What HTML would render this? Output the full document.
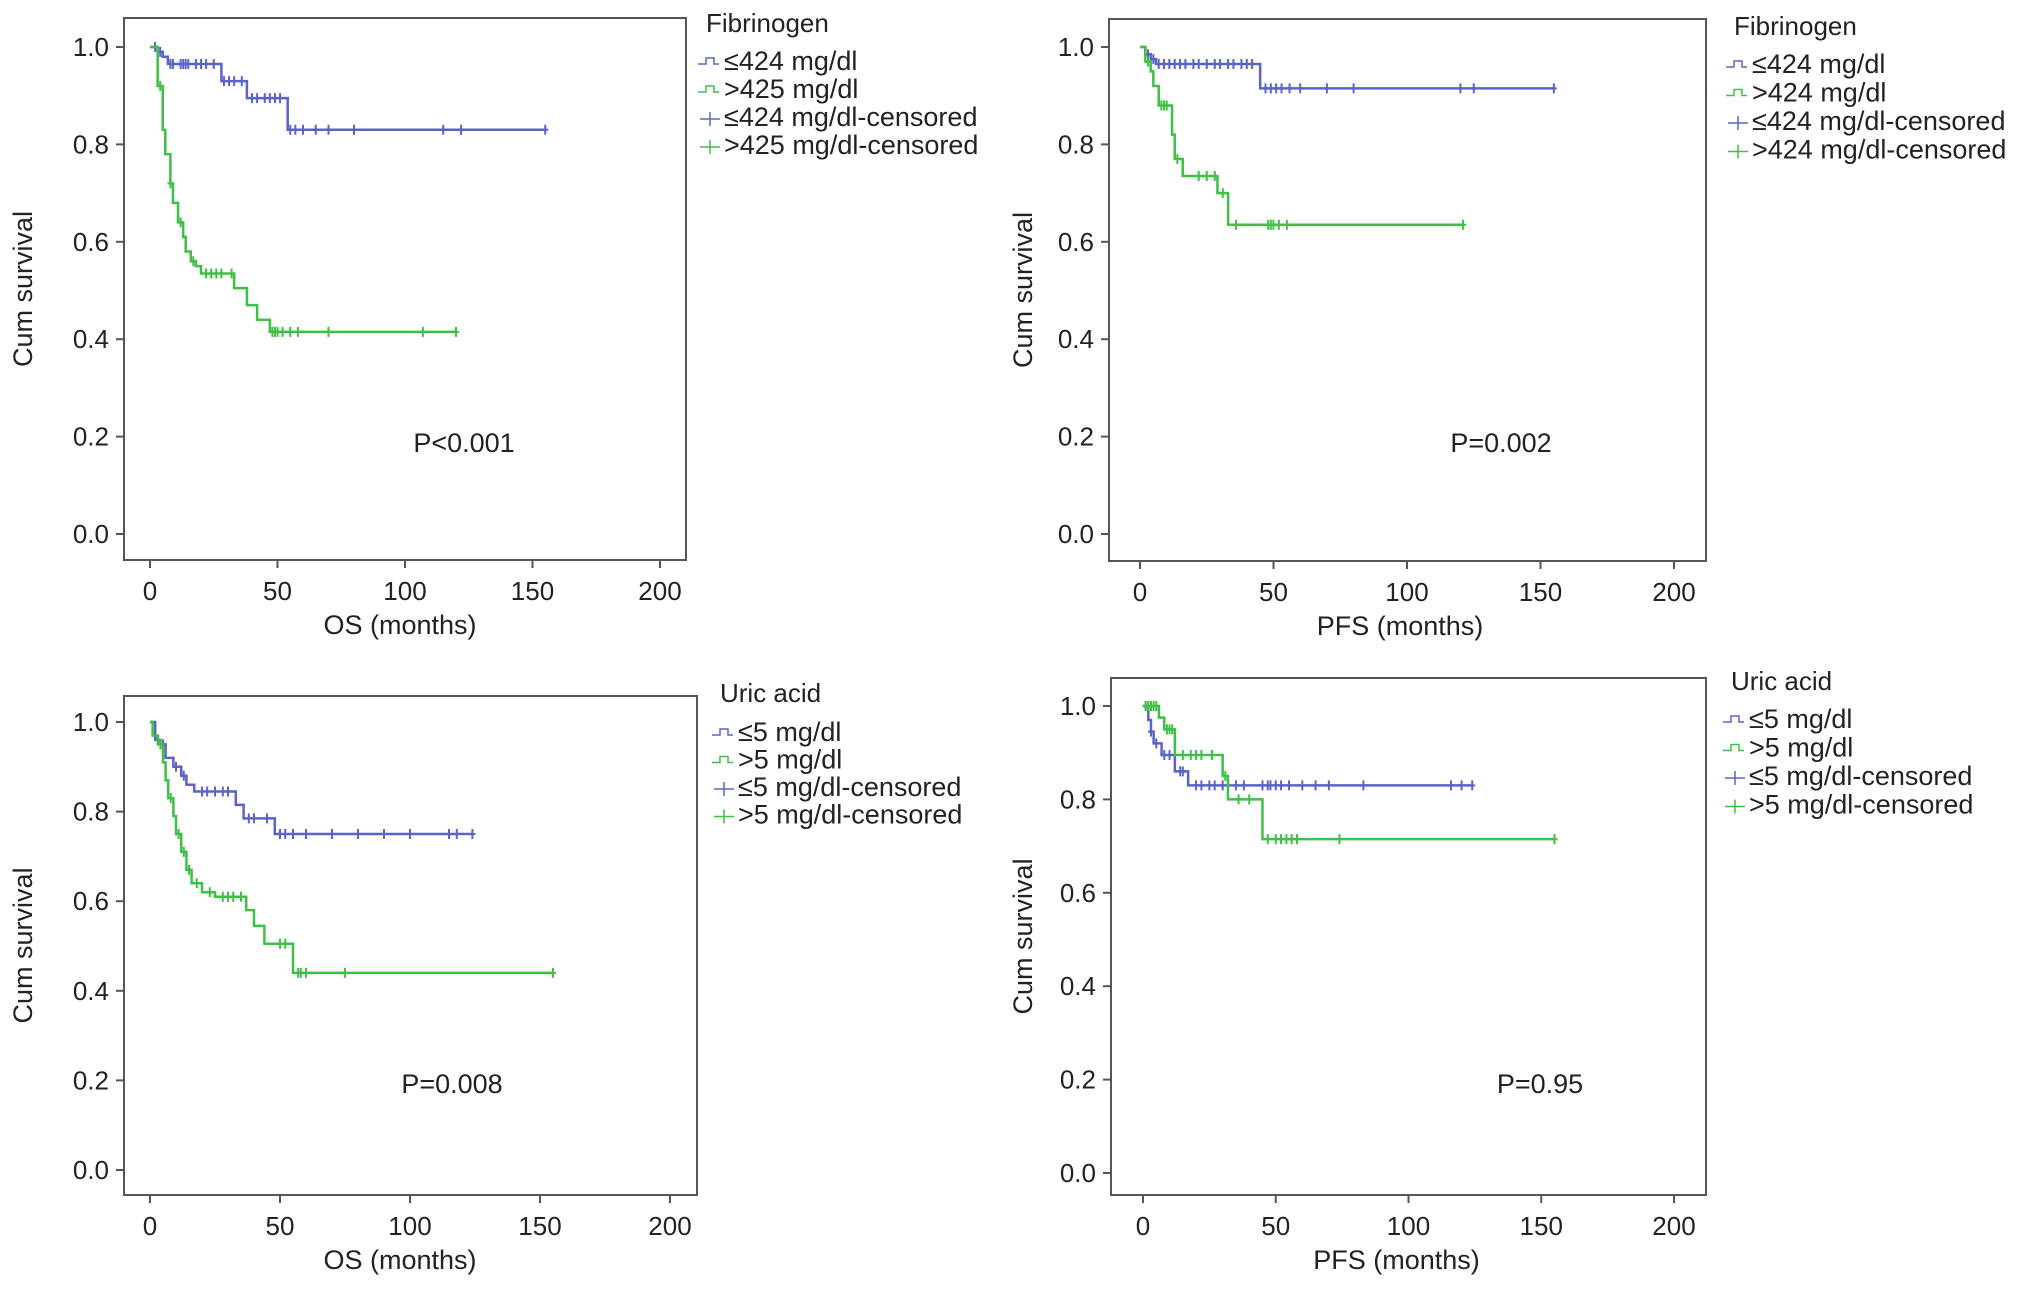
<!DOCTYPE html>
<html><head><meta charset="utf-8"><style>
body{margin:0;background:#fff;}
svg{display:block;font-family:"Liberation Sans",Arial,sans-serif;}
</style></head><body>
<svg id="fig" width="2032" height="1290" viewBox="0 0 2032 1290" xmlns="http://www.w3.org/2000/svg"></svg>
<script>
// Panel A: OS by fibrinogen
const aBlueT=[0,3,5,7,28,38,54], aBlueS=[1,0.99,0.98,0.965,0.93,0.895,0.83], aBlueEnd=155;
const aBlueC=[2,4,8,9,12,13,14,15,18,20,22,25,29,31,33,36,40,42,45,47,49,51,55,57,60,65,70,80,115,122,155];
const aGreenT=[0,3,5,6,8,9,11,13,14,16,18,20,33,38,42,47], aGreenS=[1,0.92,0.83,0.78,0.72,0.68,0.64,0.61,0.58,0.56,0.55,0.535,0.505,0.47,0.44,0.415], aGreenEnd=120;
const aGreenC=[4,8,12,17,22,24,26,28,32,48,49,50,52,55,58,70,107,120];
// Panel B: PFS by fibrinogen
const bBlueT=[0,2,4,6,45], bBlueS=[1,0.985,0.975,0.965,0.915], bBlueEnd=155;
const bBlueC=[3,5,7,9,11,13,15,17,20,22,25,28,30,33,35,38,40,42,47,49,51,53,56,60,70,80,120,125,155];
const bGreenT=[0,2,4,5,7,12,13,16,29,33], bGreenS=[1,0.97,0.95,0.92,0.88,0.82,0.77,0.735,0.7,0.635], bGreenEnd=121;
const bGreenC=[3,8,9,10,14,22,25,28,31,36,48,49,50,52,55,121];
// Panel C: OS by uric acid
const cBlueT=[0,2,4,6,9,12,14,17,33,36,48], cBlueS=[1,0.96,0.95,0.92,0.9,0.88,0.86,0.845,0.815,0.785,0.75], cBlueEnd=124;
const cBlueC=[3,5,10,13,20,22,25,28,30,38,40,45,50,52,55,60,70,80,90,100,115,118,124];
const cGreenT=[0,1,3,5,6,7,9,10,12,14,16,20,25,37,40,44,55], cGreenS=[1,0.97,0.95,0.91,0.87,0.83,0.79,0.75,0.71,0.67,0.64,0.62,0.61,0.58,0.545,0.505,0.44], cGreenEnd=155;
const cGreenC=[4,8,11,13,15,18,23,28,30,32,35,50,52,57,58,60,75,155];
// Panel D: PFS by uric acid
const dBlueT=[0,2,3,4,7,12,17], dBlueS=[1,0.97,0.945,0.92,0.895,0.86,0.83], dBlueEnd=124;
const dBlueC=[1,3,5,8,10,14,15,20,22,25,27,30,32,35,38,45,47,48,50,52,55,60,65,70,83,116,120,124];
const dGreenT=[0,6,8,12,30,32,45], dGreenS=[1,0.975,0.95,0.895,0.85,0.8,0.715], dGreenEnd=155;
const dGreenC=[1,2,3,4,5,9,10,11,15,18,20,22,26,31,36,40,47,50,52,54,56,58,74,155];
const yTicks=["0.0","0.2","0.4","0.6","0.8","1.0"];
const xTicks=["0","50","100","150","200"];

const BLUE="#5b63c9", GREEN="#3fbf45";
const NS="http://www.w3.org/2000/svg";
const fig=document.getElementById('fig');
function mk(tag,attrs,parent,text){const e=document.createElementNS(NS,tag);for(const k in attrs)e.setAttribute(k,attrs[k]);if(text!==undefined)e.textContent=text;(parent||fig).appendChild(e);return e;}

function panel(p){
  const g=mk('g',{});
  
  
  const xs=v=>p.x0+(p.x200-p.x0)*v/200;
  const ys=v=>p.y0+(p.y1-p.y0)*v;
  const fr=mk('rect',{x:p.L,y:p.T,width:p.R-p.L,height:p.B-p.T,fill:'none',stroke:'#555','stroke-width':2},g);
  
  
  yTicks.forEach(t=>{const y=ys(parseFloat(t));
    mk('line',{x1:p.L-8,x2:p.L,y1:y,y2:y,stroke:'#555','stroke-width':2},g);
    const tx=mk('text',{x:p.L-15,y:y+9,'text-anchor':'end','font-size':26,fill:'#222'},g,t);
    
    
  });
  xTicks.forEach(t=>{const x=xs(parseFloat(t));
    mk('line',{x1:x,x2:x,y1:p.B,y2:p.B+8,stroke:'#555','stroke-width':2},g);
    const tx=mk('text',{x:x,y:p.B+40,'text-anchor':'middle','font-size':26,fill:'#222'},g,t);
    
    
  });
  const yt=mk('text',{x:0,y:0,transform:`translate(${p.ytx},${(p.T+p.B)/2}) rotate(-90)`,'text-anchor':'middle','font-size':27,fill:'#222'},g,'Cum survival');
  
  
  const xt=mk('text',{x:(p.x0+p.x200)/2+p.xtOff,y:p.B+74,'text-anchor':'middle','font-size':27,fill:'#222'},g,p.xtitle);
  
  
  const pv=mk('text',{x:p.px,y:p.py,'text-anchor':'middle','font-size':27,fill:'#222'},g,p.pval);
  
  
  p.series.forEach(s=>{
    let d=`M${xs(s.t[0])},${ys(s.s[0])}`;
    for(let i=1;i<s.t.length;i++){d+=`H${xs(s.t[i])}V${ys(s.s[i])}`;}
    d+=`H${xs(s.end)}`;
    const path=mk('path',{d:d,fill:'none',stroke:s.col,'stroke-width':2.5},g);
    
    
    s.c.forEach(ct=>{
      let v=s.s[0];for(let i=0;i<s.t.length;i++){if(s.t[i]<=ct)v=s.s[i];}
      const x=xs(ct),y=ys(v);
      const m=mk('path',{d:`M${x},${y-5}V${y+5}M${x-3},${y}H${x+3}`,stroke:s.col,'stroke-width':2},g);
      
      
    });
  });
  const lt=mk('text',{x:p.lx,y:p.ly,'font-size':26,fill:'#222'},g,p.ltitle);
  
  
  p.legend.forEach((l,i)=>{
    const y=p.ly+p.l0+i*p.ldy;
    const e=mk('g',{},g);
    
    
    if(i<2) mk('path',{d:`M${p.lx-8},${y-6}h8v-6h8v6h5`,fill:'none',stroke:l.col,'stroke-width':1.5},e);
    else mk('path',{d:`M${p.lx+4},${y-14}v14M${p.lx-6},${y-7}h20`,stroke:l.col,'stroke-width':1.5},e);
    mk('text',{x:p.lx+18,y:y,'font-size':27,fill:'#222'},e,l.txt);
  });
}
panel({name:'panel-os-fibrinogen',L:124,R:686,T:18,B:560,x0:150,x200:660,y0:534,y1:47,ytx:32,xtitle:'OS (months)',xtOff:-5,pval:'P<0.001',px:464,py:452,
  ltitle:'Fibrinogen',lx:706,ly:32,l0:38,ldy:28,
  legend:[{col:BLUE,txt:'≤424 mg/dl'},{col:GREEN,txt:'>425 mg/dl'},{col:BLUE,txt:'≤424 mg/dl-censored'},{col:GREEN,txt:'>425 mg/dl-censored'}],
  series:[{name:'low-fibrinogen',col:BLUE,t:aBlueT,s:aBlueS,end:aBlueEnd,c:aBlueC},{name:'high-fibrinogen',col:GREEN,t:aGreenT,s:aGreenS,end:aGreenEnd,c:aGreenC}]});
panel({name:'panel-pfs-fibrinogen',L:1109,R:1706,T:19,B:561,x0:1140,x200:1674,y0:534,y1:47,ytx:1032,xtitle:'PFS (months)',xtOff:-7,pval:'P=0.002',px:1501,py:452,
  ltitle:'Fibrinogen',lx:1734,ly:35,l0:38,ldy:28.5,
  legend:[{col:BLUE,txt:'≤424 mg/dl'},{col:GREEN,txt:'>424 mg/dl'},{col:BLUE,txt:'≤424 mg/dl-censored'},{col:GREEN,txt:'>424 mg/dl-censored'}],
  series:[{name:'low-fibrinogen',col:BLUE,t:bBlueT,s:bBlueS,end:bBlueEnd,c:bBlueC},{name:'high-fibrinogen',col:GREEN,t:bGreenT,s:bGreenS,end:bGreenEnd,c:bGreenC}]});
panel({name:'panel-os-uric-acid',L:124,R:697,T:696,B:1195,x0:150,x200:670,y0:1170,y1:722,ytx:32,xtitle:'OS (months)',xtOff:-10,pval:'P=0.008',px:452,py:1093,
  ltitle:'Uric acid',lx:720,ly:702,l0:39,ldy:27.5,
  legend:[{col:BLUE,txt:'≤5 mg/dl'},{col:GREEN,txt:'>5 mg/dl'},{col:BLUE,txt:'≤5 mg/dl-censored'},{col:GREEN,txt:'>5 mg/dl-censored'}],
  series:[{name:'low-uric-acid',col:BLUE,t:cBlueT,s:cBlueS,end:cBlueEnd,c:cBlueC},{name:'high-uric-acid',col:GREEN,t:cGreenT,s:cGreenS,end:cGreenEnd,c:cGreenC}]});
panel({name:'panel-pfs-uric-acid',L:1111,R:1706,T:678,B:1195,x0:1143,x200:1674,y0:1173,y1:706,ytx:1032,xtitle:'PFS (months)',xtOff:-12,pval:'P=0.95',px:1540,py:1093,
  ltitle:'Uric acid',lx:1731,ly:690,l0:38,ldy:28.5,
  legend:[{col:BLUE,txt:'≤5 mg/dl'},{col:GREEN,txt:'>5 mg/dl'},{col:BLUE,txt:'≤5 mg/dl-censored'},{col:GREEN,txt:'>5 mg/dl-censored'}],
  series:[{name:'low-uric-acid',col:BLUE,t:dBlueT,s:dBlueS,end:dBlueEnd,c:dBlueC},{name:'high-uric-acid',col:GREEN,t:dGreenT,s:dGreenS,end:dGreenEnd,c:dGreenC}]});
</script>
</body></html>
